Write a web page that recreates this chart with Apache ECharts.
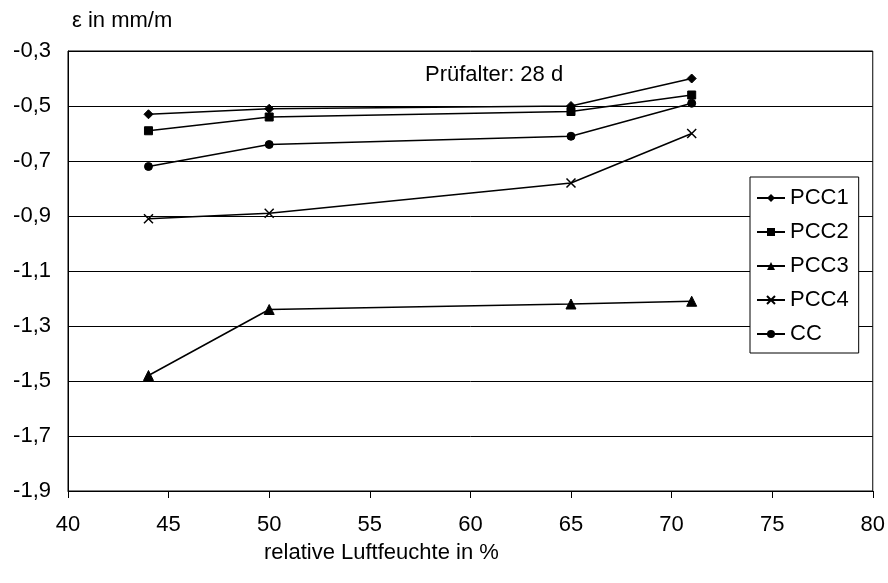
<!DOCTYPE html>
<html><head><meta charset="utf-8">
<script src="https://cdn.jsdelivr.net/npm/echarts@6/dist/echarts.min.js"></script>
<style>html,body{margin:0;padding:0;background:#fff}#c{width:888px;height:583px}</style>
</head><body><div id="c"></div>
<script>
const humidity = [44, 50, 65, 71];
const PCC1 = [-0.53, -0.51, -0.50, -0.40];
const PCC2 = [-0.59, -0.54, -0.52, -0.46];
const PCC3 = [-1.48, -1.24, -1.22, -1.21];
const PCC4 = [-0.91, -0.89, -0.78, -0.60];
const CC = [-0.72, -0.64, -0.61, -0.49];
const seriesNames = ['PCC1', 'PCC2', 'PCC3', 'PCC4', 'CC'];
const seriesValues = [PCC1, PCC2, PCC3, PCC4, CC];
const symbols = ['diamond', 'rect', 'triangle', 'path://M0,0L10,10M10,0L0,10', 'circle'];
const symbolSizes = [9, 8, 10, 9, 8];

const font = 'Liberation Sans, Arial, sans-serif';
const fs = 22;
const chart = echarts.init(document.getElementById('c'));
chart.setOption({
  animation: false,
  backgroundColor: '#fff',
  grid: { left: 68, right: 15, top: 51, bottom: 92, show: true, borderColor: '#000', borderWidth: 1, containLabel: false },
  xAxis: {
    type: 'value', min: 40, max: 80, interval: 5,
    axisLine: { lineStyle: { color: '#000', width: 1 } },
    axisTick: { show: true, inside: false, length: 7, lineStyle: { color: '#000' } },
    axisLabel: { color: '#000', fontSize: fs, fontFamily: font, margin: 23 },
    splitLine: { show: false }
  },
  yAxis: {
    type: 'value', min: -1.9, max: -0.3, interval: 0.2,
    axisLine: { show: true, lineStyle: { color: '#000', width: 1 } },
    axisTick: { show: false },
    axisLabel: { color: '#000', fontSize: fs, fontFamily: font, margin: 17,
      formatter: v => v.toFixed(1).replace('.', ',') },
    splitLine: { show: true, lineStyle: { color: '#000', width: 1 } }
  },
  legend: {
    orient: 'vertical', left: 750, top: 177,
    data: seriesNames,
    backgroundColor: '#fff', borderColor: '#000', borderWidth: 1,
    padding: [10, 10, 8, 6], itemGap: 12, itemWidth: 28, itemHeight: 10,
    textStyle: { color: '#000', fontSize: fs, fontFamily: font }
  },
  graphic: [
    { type: 'text', left: 72, top: 10, style: { text: 'ε in mm/m', fill: '#000', font: fs + 'px ' + font } },
    { type: 'text', left: 425, top: 64, style: { text: 'Prüfalter: 28 d', fill: '#000', font: fs + 'px ' + font } },
    { type: 'text', left: 264, top: 542, style: { text: 'relative Luftfeuchte in %', fill: '#000', font: fs + 'px ' + font } }
  ],
  series: seriesNames.map((n, i) => ({
    name: n, type: 'line',
    data: humidity.map((h, j) => [h, seriesValues[i][j]]),
    symbol: symbols[i], symbolSize: symbolSizes[i], showSymbol: true,
    lineStyle: { color: '#000', width: 1.5 },
    itemStyle: i === 3 ? { color: 'none', borderColor: '#000', borderWidth: 1.5 } : { color: '#000', borderColor: '#000' },
    emphasis: { disabled: true }
  }))
});
</script></body></html>
